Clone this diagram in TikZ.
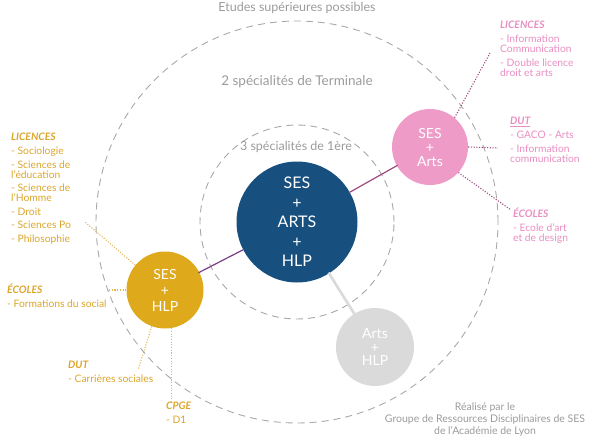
\documentclass[tikz,border=0pt]{standalone}
\usepackage{fontspec}
\setmainfont{Lato}
\usepackage{tikz}
\usetikzlibrary{positioning,calc}
\definecolor{gsBlue}{HTML}{17507E}
\definecolor{gsGold}{HTML}{DEA91B}
\definecolor{gsGoldTxt}{HTML}{DBA52A}
\definecolor{gsGoldDot}{HTML}{E2B75A}
\definecolor{gsPink}{HTML}{EE9BC8}
\definecolor{gsPinkTxt}{HTML}{E98EC2}
\definecolor{gsPlum}{HTML}{9E4A7C}
\definecolor{gsViolet}{HTML}{7A3D8C}
\definecolor{gsStone}{HTML}{DADADA}
\definecolor{gsRing}{HTML}{A8A8A8}
\definecolor{gsNote}{HTML}{9B9B9B}
\newcommand\lblhead[1]{\textbf{\textit{#1}}}

\begin{document}
\begin{tikzpicture}[x=1pt,y=-1pt,
  spec/.style={circle,inner sep=0pt,text=white,align=center},
  ring/.style={gsRing,line width=0.9pt,dash pattern=on 7pt off 5pt},
  zone/.style={gsNote,font=\fontsize{12.5}{14}\selectfont},
  link/.style={line width=1.2pt,shorten <=-1pt,shorten >=-1pt},
  dots/.style={line width=1.1pt,dash pattern=on 1.1pt off 1.6pt},
  lbl/.style={align=left,inner sep=0pt,anchor=north west,
              font=\fontsize{10.3}{10}\selectfont}]
\useasboundingbox (0,0) rectangle (595,442);
\coordinate (c) at (297,222);
\draw[ring] (c) circle[radius=201pt];
\draw[ring] (c) circle[radius=97pt];
\node[zone] (etudes) at (297,8) {Etudes supérieures possibles};
\node[zone,font=\fontsize{13.5}{14}\selectfont] (terminale) at (297,82) {2 spécialités de Terminale};
\node[zone] (premiere) at (296,147) {3 spécialités de 1ère};

\node[spec,fill=gsBlue,minimum size=121pt,font=\fontsize{16}{19.5}\selectfont]
  (trois) at (c) {SES\\+\\ARTS\\+\\HLP};
\node[spec,fill=gsPink,minimum size=76pt,font=\fontsize{14}{14}\selectfont]
  (arts) at (430,147) {SES\\+\\Arts};
\node[spec,fill=gsGold,minimum size=77pt,font=\fontsize{14}{16}\selectfont]
  (hlp) at (165,290) {SES\\+\\HLP};
\node[spec,fill=gsStone,minimum size=78pt,font=\fontsize{14}{13.5}\selectfont]
  (duo) at (375,347) {Arts\\+\\HLP};

\draw[link,gsPlum] (trois) -- (arts);
\draw[link,gsViolet] (trois) -- (hlp);
\draw[link,gsStone,line width=2.6pt] (trois) -- (duo);

\node[lbl,text=gsGoldTxt] (licY) at (11,133) {\lblhead{LICENCES}\\[4pt]
  - Sociologie\\[3.5pt] - Sciences de\\l'éducation\\[3.5pt] - Sciences de\\l'Homme\\[3.5pt]
  - Droit\\[3.5pt] - Sciences Po\\[3.5pt] - Philosophie};
\node[lbl,text=gsGoldTxt] (ecoY) at (7,284) {\lblhead{ÉCOLES}\\[4pt] - Formations du social};
\node[lbl,text=gsGoldTxt] (dutY) at (68,361) {\lblhead{DUT}\\[4pt] - Carrières sociales};
\node[lbl,text=gsGoldTxt] (cpge) at (166,402) {\lblhead{CPGE}\\[4pt] - D1};

\node[lbl,text=gsPinkTxt] (licP) at (500,21) {\lblhead{LICENCES}\\[4pt]
  - Information\\Communication\\[3.5pt] - Double licence\\droit et arts};
\node[lbl,text=gsPinkTxt] (dutP) at (510,117) {\lblhead{\underline{DUT}}\\[4pt]
  - GACO - Arts\\[3.5pt] - Information\\communication};
\node[lbl,text=gsPinkTxt] (ecoP) at (513,208) {\lblhead{ÉCOLES}\\[4pt]
  - Ecole d'art\\et de design};

\coordinate (licYend) at (85,222);
\coordinate (dutYend) at (138,370);
\coordinate (licPend) at (490,53);
\coordinate (dutPend) at (498,148);
\coordinate (ecoPend) at (511,210);
\draw[dots,gsGoldDot] (hlp.140) -- (licYend);
\draw[dots,gsGoldDot] (hlp.west) -- (ecoY.east |- hlp.west);
\draw[dots,gsGoldDot] (hlp.250) -- (dutYend);
\draw[dots,gsGoldDot] (hlp.280) -- (hlp.280 |- cpge.north);
\draw[dots,gsPlum] (arts.50) -- (licPend);
\draw[dots,gsPlum] (arts.east) -- (dutPend);
\draw[dots,gsPlum] (arts.318) -- (ecoPend);

\node[gsNote,align=center,font=\fontsize{10.5}{12}\selectfont] (credit) at (485,420)
  {Réalisé par le\\Groupe de Ressources Disciplinaires de SES\\de l'Académie de Lyon};
\end{tikzpicture}
\end{document}
